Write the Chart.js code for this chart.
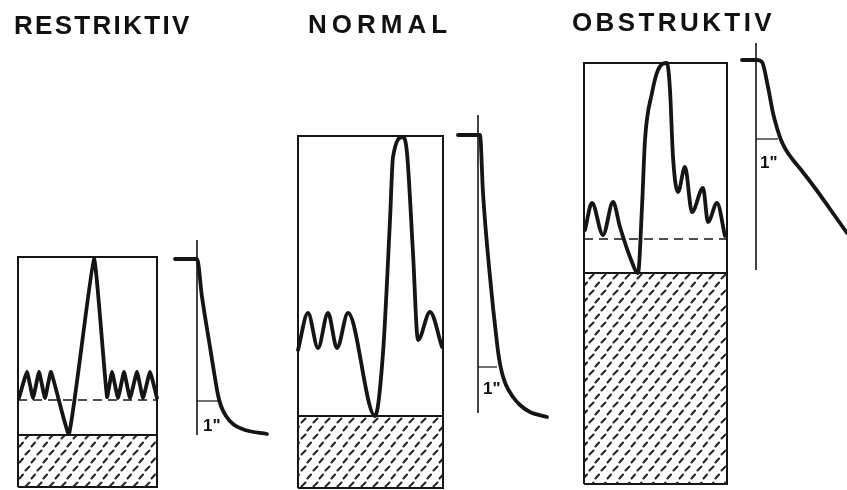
<!DOCTYPE html>
<html>
<head>
<meta charset="utf-8">
<script src="https://cdn.jsdelivr.net/npm/chart.js@4.4.0/dist/chart.umd.min.js"></script>
<style>
    html, body { margin: 0; padding: 0; background: #fff; }
    #wrap { position: relative; width: 847px; height: 490px; overflow: hidden; }
    canvas { position: absolute; left: 0; top: 0; }
    .title {
        position: absolute;
        font-family: 'Liberation Sans', Arial, sans-serif;
        font-weight: bold;
        font-size: 26px;
        line-height: 26px;
        color: #111;
        white-space: nowrap;
    }
    .sec {
        position: absolute;
        font-family: 'Liberation Sans', Arial, sans-serif;
        font-weight: bold;
        font-size: 17px;
        line-height: 17px;
        color: #111;
    }
</style>
</head>
<body>
<div id="wrap">
    <canvas id="chart" width="847" height="490"></canvas>
    <div class="title" style="left:14px;top:12px;letter-spacing:2.3px">RESTRIKTIV</div>
    <div class="title" style="left:308px;top:11px;letter-spacing:5px">NORMAL</div>
    <div class="title" style="left:572px;top:9px;letter-spacing:3.4px">OBSTRUKTIV</div>
    <div class="sec" style="left:203px;top:417px">1"</div>
    <div class="sec" style="left:483px;top:380px">1"</div>
    <div class="sec" style="left:760px;top:154px">1"</div>
</div>
<script>
// Figure values: x = horizontal position, y = volume height above the base line

// RESTRIKTIV
const restrictiveBox = [[18, 3], [18, 233], [157, 233], [157, 3], [18, 3]];
const restrictiveResidual = [[18, 55], [157, 55]];
const restrictiveFrc = [[18, 90], [157, 90]];
const restrictiveTrace = [
    [19, 92], [27, 118], [33, 92], [39, 118], [45, 92], [51, 118],
    [69, 56], [94, 231], [107, 93],
    [112, 118], [118, 92], [124, 118], [130, 92], [137, 118], [143, 92], [150, 118], [157, 92]
];
const restrictiveTimeCurve = [
    [175, 231], [197, 231], [202, 193], [210, 143], [214, 118], [218, 95], [221, 84],
    [226, 74], [233, 66], [245, 60], [267, 56]
];
const restrictiveTimeAxis = [[197, 250], [197, 55]];
const restrictiveOneSec = [[197, 89], [218, 89]];

// NORMAL
const normalBox = [[298, 2], [298, 354], [443, 354], [443, 2], [298, 2]];
const normalResidual = [[298, 74], [443, 74]];
const normalTrace = [
    [298, 140], [308, 177], [318, 142], [328, 177], [337, 142], [348, 177],
    [375, 74], [383, 137], [390, 270], [393, 333], [403, 353], [407, 337], [413, 237],
    [418, 150], [430, 178], [442, 143]
];
const normalTimeCurve = [
    [458, 355], [480, 355], [483, 297], [490, 213], [497, 147], [499, 132], [502, 117],
    [506, 105], [513, 93], [520, 85], [530, 78], [547, 73]
];
const normalTimeAxis = [[478, 375], [478, 77]];
const normalOneSec = [[478, 123], [497, 123]];

// OBSTRUKTIV
const obstructiveBox = [[584, 6], [584, 427], [727, 427], [727, 6], [584, 6]];
const obstructiveResidual = [[584, 217], [727, 217]];
const obstructiveFrc = [[584, 251], [727, 251]];
const obstructiveTrace = [
    [585, 260], [592, 287], [603, 255], [613, 288], [620, 263], [630, 233], [638, 217],
    [642, 283], [645, 350], [652, 397], [658, 420], [667, 427], [670, 400], [673, 333],
    [678, 298], [685, 323], [692, 278], [703, 302], [708, 268], [717, 287], [725, 254]
];
const obstructiveTimeCurve = [
    [742, 430], [757, 430], [762, 428], [768, 403], [773, 377], [777, 362], [781, 350],
    [786, 340], [793, 330], [802, 319], [815, 302], [830, 281], [847, 257]
];
const obstructiveTimeAxis = [[756, 447], [756, 220]];
const obstructiveOneSec = [[756, 351], [778, 351]];

const INK = '#151515';

function pts(list) {
    return list.map(p => ({ x: p[0], y: p[1] }));
}

// Hatch pattern for the residual volume
function makeHatch() {
    const tile = document.createElement('canvas');
    tile.width = 12;
    tile.height = 16;
    const c = tile.getContext('2d');
    c.strokeStyle = '#222';
    c.lineWidth = 2;
    c.lineCap = 'round';
    c.beginPath();
    c.moveTo(1.5, 6.5); c.lineTo(5.5, 2.5);
    c.moveTo(7.5, 14.5); c.lineTo(11, 10.5);
    c.stroke();
    return c.createPattern(tile, 'repeat');
}
const hatch = makeHatch();

function frame(list) {
    return { data: pts(list), borderColor: INK, borderWidth: 2, tension: 0 };
}
function residual(list, base) {
    return {
        data: pts(list), borderColor: INK, borderWidth: 1.8,
        backgroundColor: hatch, fill: { value: base }, tension: 0
    };
}
function dashed(list) {
    return { data: pts(list), borderColor: INK, borderWidth: 1.6, borderDash: [9, 6], tension: 0 };
}
function trace(list) {
    return { data: pts(list), borderColor: INK, borderWidth: 3.8, cubicInterpolationMode: 'monotone', borderCapStyle: 'round', borderJoinStyle: 'round' };
}
function sharpTrace(list) {
    return { data: pts(list), borderColor: INK, borderWidth: 3.8, tension: 0.12, borderCapStyle: 'round', borderJoinStyle: 'round' };
}
function thin(list, w) {
    return { data: pts(list), borderColor: INK, borderWidth: w, tension: 0 };
}

const datasets = [
    sharpTrace(restrictiveTrace), trace(restrictiveTimeCurve),
    trace(normalTrace), trace(normalTimeCurve),
    trace(obstructiveTrace), trace(obstructiveTimeCurve),
    dashed(restrictiveFrc), dashed(obstructiveFrc),
    thin(restrictiveTimeAxis, 1.6), thin(normalTimeAxis, 1.6), thin(obstructiveTimeAxis, 1.6),
    thin(restrictiveOneSec, 1.2), thin(normalOneSec, 1.2), thin(obstructiveOneSec, 1.2),
    residual(restrictiveResidual, 3), residual(normalResidual, 2), residual(obstructiveResidual, 6),
    frame(restrictiveBox), frame(normalBox), frame(obstructiveBox)
];

datasets.forEach(d => {
    d.pointRadius = 0;
    d.clip = false;
    if (d.fill === undefined) d.fill = false;
});

new Chart(document.getElementById('chart'), {
    type: 'line',
    data: { datasets },
    options: {
        responsive: false,
        animation: false,
        layout: { padding: 0 },
        plugins: { legend: { display: false }, tooltip: { enabled: false } },
        scales: {
            x: { type: 'linear', min: 0, max: 847, display: false },
            y: { type: 'linear', min: 0, max: 490, display: false }
        }
    }
});
</script>
</body>
</html>
